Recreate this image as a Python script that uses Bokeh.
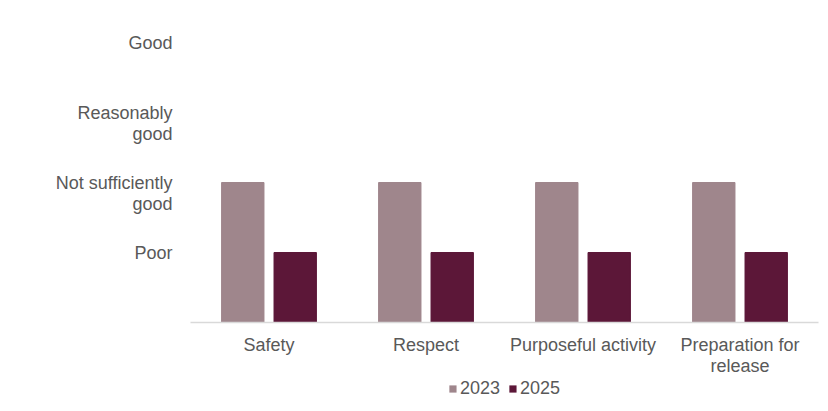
from bokeh.plotting import figure
from bokeh.layouts import column
from bokeh.models import ColumnDataSource, FactorRange, Range1d, FixedTicker, Legend, LegendItem
from bokeh.transform import dodge
from bokeh.embed import file_html
from bokeh.resources import INLINE

categories = ["Safety", "Respect", "Purposeful activity", "Preparation for\nrelease"]
series_names = ["2023", "2025"]
values_2023 = [2, 2, 2, 2]
values_2025 = [1, 1, 1, 1]
level_ticks = [1, 2, 3, 4]
level_labels = ["Poor", "\nNot sufficiently\ngood", "\nReasonably\ngood", "Good"]

colors = ["#9f868c", "#5c1738"]
font = "Liberation Sans"
text_color = "#595959"
fs = "18px"

source = ColumnDataSource(data=dict(cat=categories, v2023=values_2023, v2025=values_2025))

p = figure(x_range=FactorRange(*categories), y_range=Range1d(0, 4.0),
           width=820, height=378, output_backend="svg", toolbar_location=None,
           min_border_left=190, min_border_right=2, min_border_top=42,
           min_border_bottom=50)

r1 = p.vbar(x=dodge("cat", -0.167, range=p.x_range), top="v2023", width=0.27,
            source=source, color=colors[0])
r2 = p.vbar(x=dodge("cat", 0.167, range=p.x_range), top="v2025", width=0.27,
            source=source, color=colors[1])

p.outline_line_color = None
p.grid.visible = False
p.background_fill_color = "white"
p.border_fill_color = "white"

p.yaxis.ticker = FixedTicker(ticks=level_ticks)
p.yaxis.major_label_overrides = {t: l for t, l in zip(level_ticks, level_labels)}
p.yaxis.axis_line_color = None
p.yaxis.major_tick_line_color = None
p.yaxis.minor_tick_line_color = None
p.yaxis.major_label_text_font = font
p.yaxis.major_label_text_font_size = fs
p.yaxis.major_label_text_color = text_color
p.yaxis.major_label_text_line_height = 1.05
p.yaxis.major_label_standoff = 12

p.xaxis.axis_line_color = "#d9d9d9"
p.xaxis.axis_line_width = 1.5
p.xaxis.major_tick_line_color = None
p.xaxis.minor_tick_line_color = None
p.xaxis.major_label_text_font = font
p.xaxis.major_label_text_font_size = fs
p.xaxis.major_label_text_color = text_color
p.xaxis.major_label_text_line_height = 1.05
p.xaxis.major_label_standoff = 6

# legend in a small strip below, aligned to the main plot frame
lg = figure(width=820, height=32, output_backend="svg", toolbar_location=None,
            x_range=Range1d(0, 1), y_range=Range1d(0, 1),
            min_border_left=190, min_border_right=2, min_border_top=0,
            min_border_bottom=0)
lg.axis.visible = False
lg.grid.visible = False
lg.outline_line_color = None
lr1 = lg.vbar(x=[0], top=[0], width=0, color=colors[0], line_color=None)
lr2 = lg.vbar(x=[0], top=[0], width=0, color=colors[1], line_color=None)

legend = Legend(items=[LegendItem(label=series_names[0], renderers=[lr1]),
                       LegendItem(label=series_names[1], renderers=[lr2])],
                orientation="horizontal", location="top_center",
                label_text_font=font, label_text_font_size=fs,
                label_text_color=text_color, glyph_width=9, glyph_height=9,
                label_standoff=3, spacing=8, padding=0, margin=0,
                label_height=18,
                border_line_color=None, background_fill_alpha=0)
lg.add_layout(legend, "center")

open("out.html", "w").write(file_html(column(p, lg, spacing=0), INLINE))
